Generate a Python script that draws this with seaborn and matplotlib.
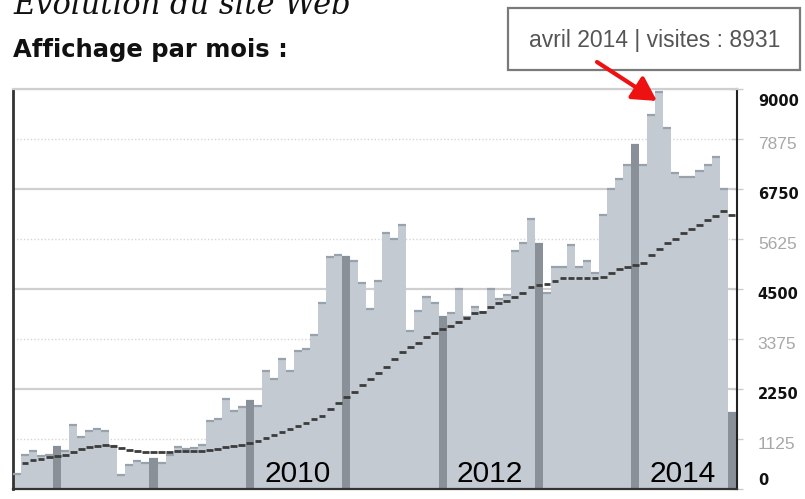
import numpy as np
import pandas as pd
import matplotlib
matplotlib.use("Agg")
import matplotlib.pyplot as plt
import matplotlib.transforms as mtransforms
from matplotlib.patches import Rectangle
import seaborn as sns

# ---------------- data ----------------
start_month = "2007-08"
visits = [340, 765, 855, 750, 760,
          950, 850, 1450, 1170, 1305, 1355, 1305, 975, 315, 540, 630, 580,
          670, 580, 765, 950, 900, 915, 990, 1540, 1575, 2025, 1755, 1850,
          1980, 1875, 2655, 2475, 2925, 2655, 3105, 3150, 3465, 4180, 5210, 5265,
          5230, 5130, 4645, 4060, 4685, 5765, 5625, 5945, 3555, 4010, 4330, 4195,
          3880, 3970, 4500, 3865, 4100, 3975, 4500, 4275, 4365, 5360, 5535, 6075,
          5505, 4405, 5005, 5005, 5490, 5005, 5130, 4855, 6165, 6750, 6975, 7290,
          7740, 7290, 8415, 8931, 8115, 7105, 7030, 7030, 7155, 7290, 7480, 6750,
          1705]
moving_avg = [np.nan, 578, 660, 665, 720,
              750, 760, 830, 890, 950, 975, 990, 975, 930, 878, 865, 840,
              835, 835, 840, 855, 855, 850, 850, 875, 895, 938, 975, 990,
              1028, 1080, 1155, 1215, 1275, 1343, 1418, 1478, 1568, 1650, 1793, 1928,
              2063, 2190, 2340, 2468, 2603, 2738, 2918, 3090, 3188, 3278, 3413, 3503,
              3593, 3675, 3765, 3848, 3953, 3990, 4088, 4178, 4238, 4313, 4410, 4545,
              4590, 4605, 4670, 4740, 4740, 4740, 4740, 4740, 4778, 4853, 4950, 5003,
              5040, 5078, 5265, 5400, 5528, 5625, 5753, 5850, 5940, 6053, 6150, 6255,
              6170]
y_ticks = [0, 1125, 2250, 3375, 4500, 5625, 6750, 7875, 9000]
year_labels = ["2010", "2012", "2014"]
peak_label = "avril 2014 | visites : 8931"
title_top = "Évolution du site Web"
title_sub = "Affichage par mois :"

months = pd.period_range(start_month, periods=len(visits), freq="M")
df = pd.DataFrame({
    "idx": np.arange(len(visits)),
    "visits": visits,
    "ma": moving_avg,
    "year": months.year,
    "jan": np.where(months.month == 1, "jan", "other"),
})

# ---------------- style ----------------
LIGHT = "#c1cad4"
DARK = "#86909a"
CAP = "#98a2ac"

sns.set_theme(style="white")
plt.rcParams["font.family"] = ["DejaVu Sans"]

W, H = 805, 499
fig = plt.figure(figsize=(W / 100, H / 100), dpi=100)
ax = fig.add_axes([13 / W, (H - 489) / H, (737 - 13) / W, 400 / H])

# grid
for v in y_ticks[1:]:
    major = (v % 2250 == 0)
    ax.axhline(v, color="#cfcfcf" if major else "#d6d6d6",
               lw=1.6 if major else 1.0, ls="-" if major else (0, (1, 1.5)),
               zorder=0)

sns.barplot(data=df, x="idx", y="visits", hue="jan",
            palette={"jan": DARK, "other": LIGHT}, dodge=False, width=1.0,
            linewidth=0, legend=False, ax=ax, zorder=2, order=list(df["idx"]))

x = df["idx"].to_numpy()
caps = np.where(df["jan"] == "jan", DARK, CAP)
ax.hlines(df["visits"], x - 0.5, x + 0.5, colors=caps, lw=1.6, zorder=3)
ax.hlines(df["ma"], x - 0.42, x + 0.42, colors="#3c3c3c", lw=2.0, zorder=4)

ax.set_xlim(-0.5, len(visits) - 0.33)
ax.set_ylim(0, 9000)
ax.set_xlabel("")
ax.set_ylabel("")
ax.set_xticks([])

# spines
for s in ["left", "right", "bottom"]:
    ax.spines[s].set_visible(True)
ax.spines["left"].set_color("#333333")
ax.spines["left"].set_linewidth(2.0)
ax.spines["right"].set_color("#222222")
ax.spines["right"].set_linewidth(1.5)
ax.spines["bottom"].set_color("#333333")
ax.spines["bottom"].set_linewidth(1.6)
ax.spines["top"].set_color("#cfcfcf")
ax.spines["top"].set_linewidth(1.6)

# right tick labels
ax.yaxis.tick_right()
ax.set_yticks(y_ticks)
ax.set_yticklabels([str(v) for v in y_ticks])
ax.tick_params(axis="y", which="both", direction="inout", length=8, width=1,
               color="#cccccc", pad=11)
labels = ax.get_yticklabels()
for v, lab in zip(y_ticks, labels):
    major = (v % 2250 == 0)
    lab.set_color("#111111" if major else "#a8a8a8")
    lab.set_fontweight("bold" if major else "normal")
    lab.set_fontsize(10.5)
    if not major:
        lab.set_fontfamily("Liberation Sans")
        lab.set_fontsize(12.5)
    dy = -4
    if v == 0:
        dy = 10
    elif v == 9000:
        dy = -11
    lab.set_transform(lab.get_transform() +
                      mtransforms.ScaledTranslation(0, dy / 100, fig.dpi_scale_trans))

# year labels in the middle of each year
for ylab in year_labels:
    jan_idx = df.index[(df["year"] == int(ylab)) & (df["jan"] == "jan")][0]
    ax.text(jan_idx + 5.9, 160, ylab, ha="center", va="baseline",
            fontsize=21.5, family="Liberation Sans", color="black", zorder=6)

# titles (the first one is partly cut off at the top, as in the original)
fig.text(13 / W, 1 - 14 / H, title_top, ha="left", va="baseline",
         fontsize=22, family="DejaVu Serif", style="italic", color="#111111")
fig.text(13 / W, 1 - 57 / H, title_sub, ha="left", va="baseline",
         fontsize=17.5, fontweight="bold", color="#111111")

# annotation box + arrow
fig.patches.append(Rectangle((508 / W, 1 - 70 / H), 292 / W, 62 / H,
                             transform=fig.transFigure, fill=True,
                             facecolor="white", edgecolor="#7a7a7a", lw=1.6,
                             zorder=-1))
fig.text(655 / W, 1 - 40 / H, peak_label, ha="center", va="center",
         fontsize=16.5, family="Liberation Sans", color="#555555")
peak_i = int(np.argmax(visits))
ax.annotate("", xy=(peak_i - 0.3, visits[peak_i] - 200), xycoords="data",
            xytext=(597, H - 62), textcoords="figure pixels",
            annotation_clip=False, zorder=10,
            arrowprops=dict(arrowstyle="-|>,head_length=0.9,head_width=0.5",
                            color="#ee1111", lw=3.0, shrinkA=0, shrinkB=0,
                            mutation_scale=16))

fig.savefig("out.png", dpi=100)
